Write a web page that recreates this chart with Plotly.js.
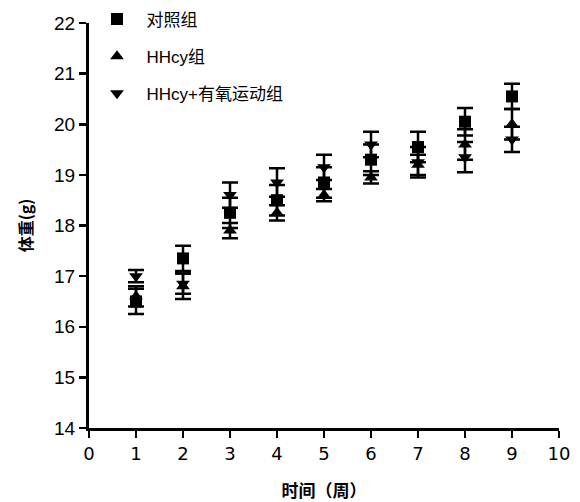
<!DOCTYPE html>
<html><head><meta charset="utf-8">
<script src="https://cdn.plot.ly/plotly-3.0.1.min.js"></script>
<style>body{margin:0;background:#fff}#c{width:580px;height:502px}</style>
</head><body><div id="c"></div>
<script>
const weeks = [1,2,3,4,5,6,7,8,9];
const ctrlMean = [16.5,17.35,18.25,18.5,18.85,19.3,19.55,20.05,20.55];
const ctrlErr  = [0.25,0.25,0.3,0.3,0.3,0.3,0.3,0.27,0.25];
const hhcyMean = [16.6,16.8,17.9,18.25,18.6,18.95,19.2,19.6,20.0];
const hhcyErr  = [0.2,0.25,0.15,0.15,0.12,0.12,0.2,0.3,0.3];
const exMean   = [17.0,16.85,18.6,18.85,19.15,19.6,19.25,19.35,19.7];
const exErr    = [0.12,0.2,0.25,0.28,0.25,0.25,0.3,0.3,0.25];
const names = ['对照组','HHcy组','HHcy+有氧运动组'];
const xTicks = [0,1,2,3,4,5,6,7,8,9,10];
const yTicks = [14,15,16,17,18,19,20,21,22];

function tr(y, e, name, sym, g){
  return {x: weeks, y: y, name: '\u00a0\u00a0' + name, type:'scatter', mode:'markers', legendgroup:g,
    marker:{symbol:sym, size:12, color:'#000'},
    error_y:{type:'data', array:e, visible:true, color:'#000', thickness:2.5, width:8}};
}
const data = [
  tr(ctrlMean, ctrlErr, names[0], 'square', 'a'),
  tr(hhcyMean, hhcyErr, names[1], 'triangle-up', 'b'),
  tr(exMean, exErr, names[2], 'triangle-down', 'c')
];
const layout = {
  width:580, height:502, margin:{l:89, r:21, t:23, b:74, autoexpand:false},
  paper_bgcolor:'#fff', plot_bgcolor:'#fff', showlegend:true,
  font:{family:'Liberation Sans, Arial, sans-serif', color:'#000'},
  legend:{x:0.017, y:1.053, xanchor:'left', yanchor:'top', bgcolor:'rgba(0,0,0,0)',
    font:{size:17, color:'#000', family:'Liberation Sans, "Noto Sans CJK SC", sans-serif'}, tracegroupgap:12, traceorder:'grouped'},
  xaxis:{range:[0,10], tickvals:xTicks, ticktext:xTicks.map(String), showgrid:false, zeroline:false,
    showline:true, linewidth:3, linecolor:'#000', ticks:'outside', ticklen:7, tickwidth:2.5, tickcolor:'#000',
    tickfont:{family:'DejaVu Sans, Verdana, sans-serif', size:18, color:'#000'},
    title:{text:'时间（周）', font:{family:'"Noto Sans CJK SC", sans-serif', size:17, color:'#000', weight:'bold'}, standoff:24}},
  yaxis:{range:[14,22], tickvals:yTicks, showgrid:false, zeroline:false,
    showline:true, linewidth:3, linecolor:'#000', ticks:'outside', ticklen:7, tickwidth:2.5, tickcolor:'#000',
    tickfont:{family:'Liberation Sans, Arial, sans-serif', size:19, color:'#000'},
    title:{text:'体重(g)', font:{family:'"Noto Sans CJK SC", sans-serif', size:16, color:'#000', weight:'bold'}, standoff:18}}
};
Plotly.newPlot('c', data, layout, {staticPlot:true});
</script></body></html>
